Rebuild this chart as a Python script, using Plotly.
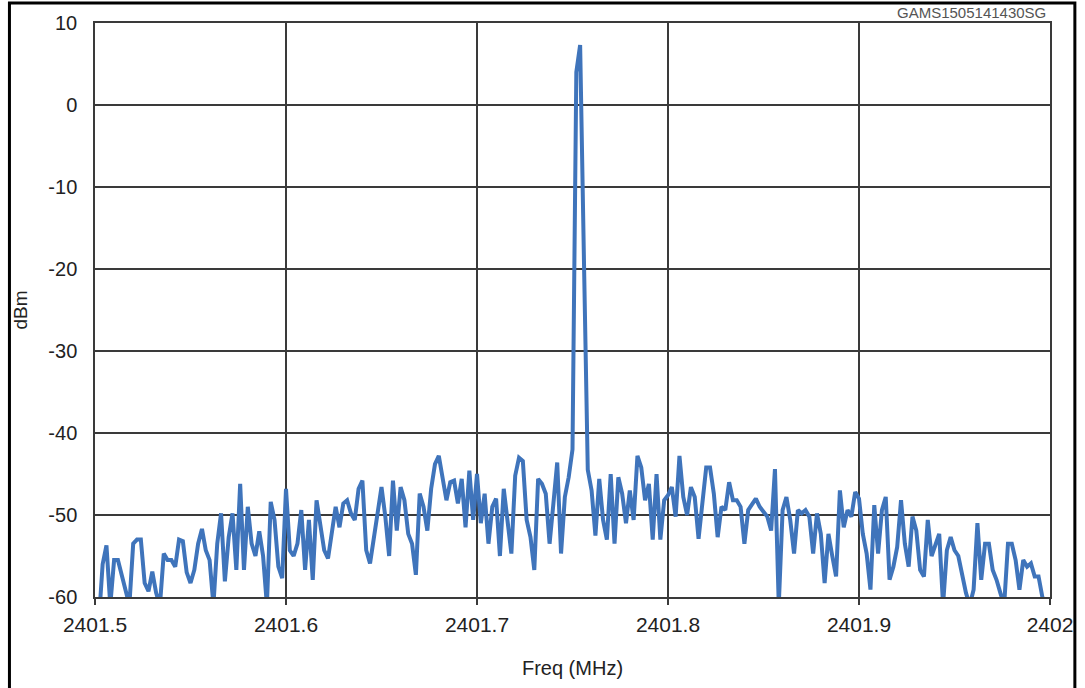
import numpy as np
import plotly.graph_objects as go

# ---- data ----
freq_start = 2401.5
freq_stop = 2402.0
level_dbm = [
    -63, -63, -56, -53.7, -61, -55.5, -55.5, -57.5, -59.3, -61,
    -53.5, -53, -53, -58.3, -59.3, -56.9, -59.5, -61, -54.7, -55.5,
    -55.5, -56.3, -53, -53.2, -57, -58.3, -56.7, -53.5, -51.7, -54.3,
    -55.5, -61, -53.5, -49.8, -58.1, -52.7, -49.8, -56.7, -46.2, -56.7,
    -49, -53.5, -55, -52, -55, -61, -48.4, -50.6, -56.3, -57.7,
    -46.8, -54.3, -55, -53.5, -49.4, -56.7, -50.6, -57.9, -48.2, -51,
    -54.3, -55.3, -51.9, -49, -51.5, -48.6, -48.2, -49.8, -50.6, -46.8,
    -45.8, -54.3, -55.9, -53, -49.4, -46.6, -50.2, -55, -45.8, -51.9,
    -46.6, -48.2, -52.3, -53.5, -57.3, -47.4, -49, -51.9, -46.8, -43.8,
    -42.8, -45.4, -48.2, -46, -45.8, -48.6, -45.6, -51.5, -44.6, -50.6,
    -45, -51, -47.4, -53.5, -49, -48, -55, -46.8, -50.6, -54.7,
    -45.2, -43, -43.4, -50.6, -52.7, -56.7, -45.6, -46.2, -47.4, -53.5,
    -48.6, -43.6, -54.7, -47.8, -45.4, -42, 4, 7.3, -19, -44.5,
    -47, -52.5, -45.6, -50.6, -53, -45, -53.5, -45.4, -47.4, -51,
    -47, -50.6, -42.8, -44.2, -48.2, -46.2, -53, -45, -53, -48.2,
    -47.6, -46.6, -50.2, -42.8, -47.8, -50, -46.6, -47.8, -52.9, -48.6,
    -44.2, -44.2, -47.4, -52.7, -49, -49.4, -46, -48.2, -48.2, -49,
    -53.5, -49.4, -48.6, -48, -49, -49.6, -50.2, -51.9, -44.4, -61,
    -49.4, -47.8, -50.6, -54.7, -49.4, -49.8, -49.4, -50.2, -54.7, -49.8,
    -52.3, -58.3, -52.3, -55, -57.5, -47, -51.5, -49.4, -50.2, -47.2,
    -48, -52.3, -54.7, -59.1, -48.8, -54.7, -49.4, -47.8, -57.9, -56.3,
    -53.9, -48.2, -53.5, -56.3, -50.2, -51.9, -56.7, -57.5, -50.6, -55,
    -53.5, -52.3, -61, -54.3, -52.7, -54.3, -55, -57.5, -59.5, -61,
    -59.1, -51, -57.9, -53.5, -53.5, -56.7, -57.9, -59.5, -61, -53.5,
    -53.5, -55.5, -59.1, -55.5, -56.3, -55.9, -57.5, -57.5, -60, -61,
    -62,
]
freq_mhz = np.linspace(freq_start, freq_stop, len(level_dbm))

x_tickvals = [2401.5, 2401.6, 2401.7, 2401.8, 2401.9, 2402.0]
x_ticktext = ["2401.5", "2401.6", "2401.7", "2401.8", "2401.9", "2402"]
y_tickvals = [-60, -50, -40, -30, -20, -10, 0, 10]
y_ticktext = ["-60", "-50", "-40", "-30", "-20", "-10", "0", "10"]

x_title = "Freq (MHz)"
y_title = "dBm"
code_label = "GAMS1505141430SG"

# ---- layout ----
W, H = 1085, 688
ML, MR, MT, MB = 95, 30, 23, 91
PW, PH = W - ML - MR, H - MT - MB

def px_to_paper_x(px):
    return (px - ML) / PW

def px_to_paper_y(py):
    return (H - MB - py) / PH

FONT = "Liberation Sans, Arial, sans-serif"
GRID = "#3a3a3a"
TXT = "#222222"

fig = go.Figure()
fig.add_trace(go.Scatter(
    x=freq_mhz, y=level_dbm, mode="lines",
    line=dict(color="#3f74bb", width=4),
    showlegend=False, hoverinfo="x+y",
))

fig.update_layout(
    width=W, height=H,
    margin=dict(l=ML, r=MR, t=MT, b=MB, pad=0),
    paper_bgcolor="white", plot_bgcolor="white",
    font=dict(family=FONT, color=TXT),
    xaxis=dict(
        range=[freq_start, freq_stop],
        tickvals=x_tickvals, ticktext=x_ticktext,
        tickfont=dict(size=21, color=TXT),
        ticks="outside", ticklen=6, tickcolor=GRID, tickwidth=1.5,
        ticklabelstandoff=2,
        showgrid=True, gridcolor=GRID, gridwidth=1.5,
        showline=True, linecolor=GRID, linewidth=1.5, mirror=True,
        zeroline=False,
        title=dict(text=x_title, font=dict(size=20, color=TXT), standoff=26),
    ),
    yaxis=dict(
        range=[-60, 10],
        tickvals=y_tickvals, ticktext=y_ticktext,
        tickfont=dict(size=20, color=TXT),
        ticks="", ticklabelstandoff=12,
        showgrid=True, gridcolor=GRID, gridwidth=1.5,
        showline=True, linecolor=GRID, linewidth=1.5, mirror=True,
        zeroline=False,
        title=dict(text=y_title, font=dict(size=19, color=TXT), standoff=16),
    ),
)

fig.add_annotation(
    text=code_label, xref="paper", yref="paper",
    x=px_to_paper_x(1053), y=px_to_paper_y(12),
    xanchor="right", yanchor="middle", showarrow=False,
    font=dict(family=FONT, size=15, color="#555555"),
)

fig.add_shape(
    type="rect", xref="paper", yref="paper",
    x0=px_to_paper_x(9), x1=px_to_paper_x(1080),
    y0=px_to_paper_y(700), y1=px_to_paper_y(3),
    line=dict(color="black", width=3), fillcolor="rgba(0,0,0,0)",
    layer="above",
)

fig.write_html(
    "out.html",
    config={"displayModeBar": False},
    post_script="document.body.style.margin='0';",
)
